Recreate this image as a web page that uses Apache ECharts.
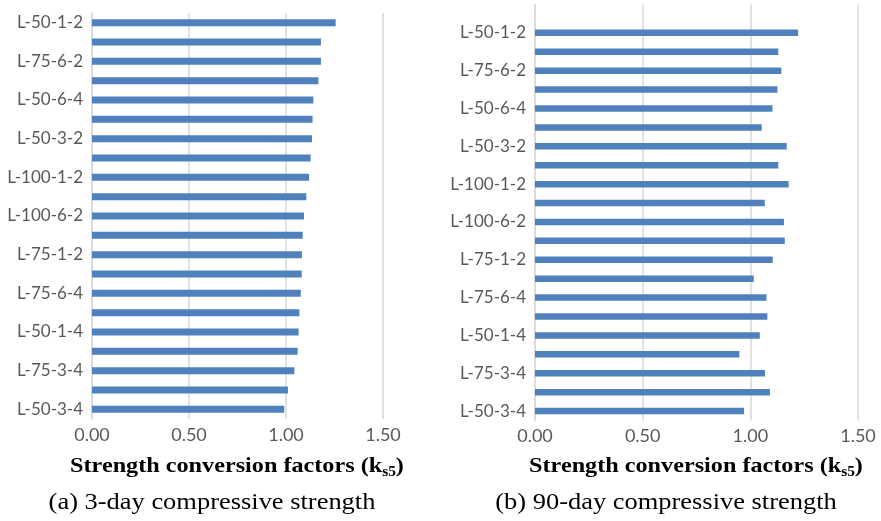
<!DOCTYPE html>
<html>
<head>
<meta charset="utf-8">
<script src="https://cdn.jsdelivr.net/npm/echarts@6/dist/echarts.min.js"></script>
<style>html,body{margin:0;padding:0;background:#fff;}#c{width:881px;height:521px;}</style>
</head>
<body>
<div id="c"></div>
<script>
// Categories top-to-bottom (every other label shown)
const categories = ['L-50-1-2','L-50-6-2','L-75-6-2','L-75-3-2','L-50-6-4','L-100-3-2','L-50-3-2','L-75-1-4','L-100-1-2','L-100-1-4','L-100-6-2','L-75-2-2','L-75-1-2','L-100-3-4','L-75-6-4','L-100-6-4','L-50-1-4','L-50-2-4','L-75-3-4','L-100-2-4','L-50-3-4'];
const values3day = [1.256,1.180,1.180,1.167,1.141,1.137,1.134,1.127,1.119,1.105,1.093,1.086,1.082,1.081,1.076,1.069,1.065,1.060,1.043,1.010,0.991];
const values90day = [1.222,1.130,1.144,1.126,1.103,1.053,1.169,1.130,1.178,1.067,1.156,1.160,1.104,1.016,1.075,1.079,1.044,0.949,1.068,1.091,0.971];
const xTicks = [0, 0.5, 1.0, 1.5];
const xTitle = 'Strength conversion factors (k';
const captions = ['(a) 3-day compressive strength', '(b) 90-day compressive strength'];

const barColor = '#4F81BD';
const gridColor = '#D9D9D9';
const labelColor = '#595959';
const catFont = 'Lato, "Open Sans", sans-serif';
const serif = '"Liberation Serif", "Times New Roman", serif';

const cats90 = [''].concat(categories);
const vals90 = [null].concat(values90day);

function xAxisCfg(gi){
  return {
    type:'value', gridIndex:gi, min:xTicks[0], max:xTicks[xTicks.length-1], interval:xTicks[1]-xTicks[0],
    axisLine:{show:false}, axisTick:{show:false},
    splitLine:{show:true, lineStyle:{color:gridColor, width:1.5}},
    axisLabel:{color:labelColor, fontSize:18, fontFamily:catFont, margin:7, formatter:v=>v.toFixed(2)}
  };
}
function yAxisCfg(gi, data, odd){
  return {
    type:'category', gridIndex:gi, data:data, inverse:true,
    axisLine:{show:true, lineStyle:{color:gridColor, width:1.5}}, axisTick:{show:false},
    axisLabel:{color:labelColor, fontSize:17, fontFamily:catFont, margin:9,
      interval:(i)=> odd ? (i%2===1) : (i%2===0)}
  };
}
function titleText(x){
  return {type:'text', x:x, y:466, scaleX:1.1, style:{
    text:'{b|'+xTitle+'}{s|s5}{b|)}', align:'center', verticalAlign:'middle',
    rich:{b:{fontFamily:serif, fontWeight:'bold', fontSize:22, fill:'#000'},
          s:{fontFamily:serif, fontWeight:'bold', fontSize:14, fill:'#000', padding:[13,0,0,0]}}
  }};
}
function captionText(x, t){
  return {type:'text', x:x, y:503, scaleX:1.15, style:{text:t, align:'center', verticalAlign:'middle', fontFamily:serif, fontSize:23, fill:'#000'}};
}

const chart = echarts.init(document.getElementById('c'), null, {renderer:'canvas'});
chart.setOption({
  animation:false,
  backgroundColor:'#fff',
  grid:[
    {left:92, top:13, width:291, height:406},
    {left:535, top:4.5, width:323, height:416}
  ],
  xAxis:[xAxisCfg(0), xAxisCfg(1)],
  yAxis:[yAxisCfg(0, categories, false), yAxisCfg(1, cats90, true)],
  series:[
    {type:'bar', xAxisIndex:0, yAxisIndex:0, data:values3day, barWidth:7, itemStyle:{color:barColor}},
    {type:'bar', xAxisIndex:1, yAxisIndex:1, data:vals90, barWidth:6.5, itemStyle:{color:barColor}}
  ],
  graphic:[
    titleText(237), titleText(696),
    captionText(212, captions[0]), captionText(666, captions[1])
  ]
});
</script>
</body>
</html>
